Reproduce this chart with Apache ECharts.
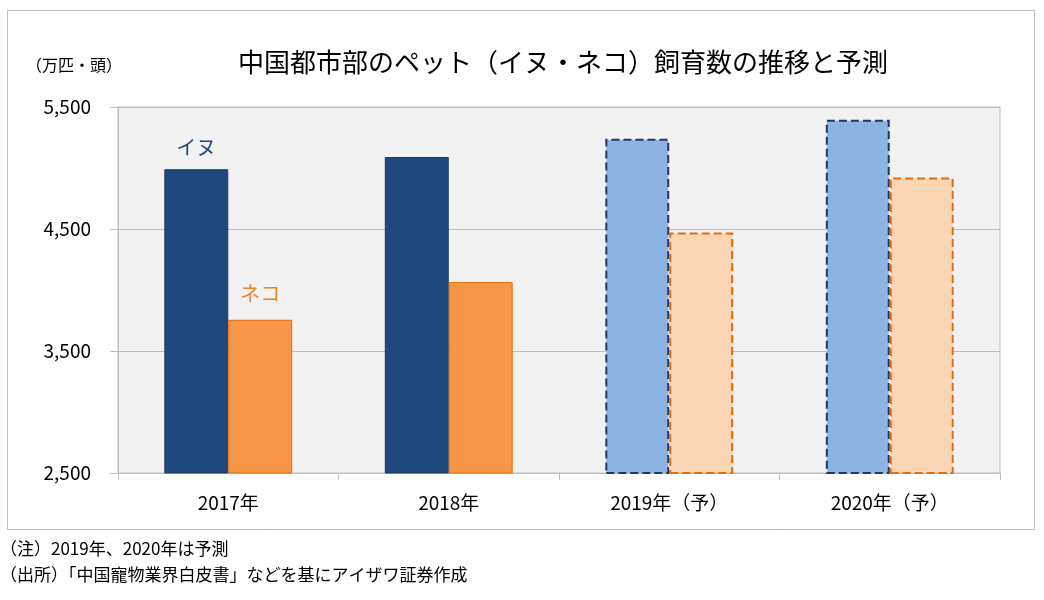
<!DOCTYPE html>
<html><head><meta charset="utf-8">
<script src="https://cdn.jsdelivr.net/npm/echarts@6/dist/echarts.min.js"></script>
<style>html,body{margin:0;padding:0;background:#fff}#c{width:1044px;height:600px}</style>
</head><body><div id="c"></div>
<script>
const categories = ['2017年', '2018年', '2019年（予）', '2020年（予）'];
const dogValues = [4990, 5090, 5240, 5395];
const catValues = [3756, 4066, 4472, 4922];
const isForecast = [false, false, true, true];
const yTicks = [2500, 3500, 4500, 5500];

const FONT = '"Noto Sans CJK JP", "Noto Sans", sans-serif';
const chart = echarts.init(document.getElementById('c'), null, {renderer: 'canvas'});

function items(vals, solid, light, border, label, labelColor, dist) {
  return vals.map((v, i) => {
    const it = {value: v};
    if (isForecast[i]) {
      it.itemStyle = {color: light, borderColor: border, borderWidth: 2, borderType: [8, 4]};
    } else {
      it.itemStyle = {color: solid, borderColor: border, borderWidth: 1};
    }
    if (i === 0) {
      it.label = {show: true, position: 'top', distance: dist, formatter: label,
        color: labelColor, fontSize: 20, fontFamily: FONT};
    }
    return it;
  });
}

chart.setOption({
  animation: false,
  backgroundColor: '#fff',
  title: [{
    text: '中国都市部のペット（イヌ・ネコ）飼育数の推移と予測',
    left: 558, top: 44, textAlign: 'center',
    textStyle: {fontSize: 26, fontWeight: 'normal', color: '#000', fontFamily: FONT}
  }, {
    text: '（万匹・頭）', left: 21, top: 52,
    textStyle: {fontSize: 16, fontWeight: 'normal', color: '#000', fontFamily: FONT}
  }],
  graphic: [
    {type: 'rect', shape: {x: 7.5, y: 10.5, width: 1027, height: 519},
     style: {fill: 'none', stroke: '#BFBFBF', lineWidth: 1}, z: -1},
    {type: 'text', left: 0, top: 540, style: {text: '（注）2019年、2020年は予測', fontSize: 17, fill: '#000', fontFamily: FONT}},
    {type: 'text', left: 0, top: 566, style: {text: '（出所）「中国寵物業界白皮書」などを基にアイザワ証券作成', fontSize: 17, fill: '#000', fontFamily: FONT}}
  ],
  grid: {left: 118, right: 44, top: 107, bottom: 127, show: true,
    backgroundColor: '#F2F2F2', borderColor: '#BFBFBF', borderWidth: 1},
  xAxis: {
    type: 'category', data: categories,
    axisLine: {lineStyle: {color: '#BFBFBF'}},
    axisTick: {show: true, length: 7, lineStyle: {color: '#BFBFBF'}},
    axisLabel: {color: '#000', fontSize: 19, margin: 20, fontFamily: FONT}
  },
  yAxis: {
    type: 'value', min: yTicks[0], max: yTicks[yTicks.length - 1], interval: 1000,
    axisLine: {show: true, lineStyle: {color: '#BFBFBF'}},
    axisTick: {show: true, length: 8, lineStyle: {color: '#BFBFBF'}},
    splitLine: {lineStyle: {color: '#BFBFBF'}},
    axisLabel: {color: '#000', fontSize: 19, margin: 27, fontFamily: FONT,
      formatter: v => v.toLocaleString('en-US')}
  },
  series: [
    {name: 'イヌ', type: 'bar', barGap: '0%', barCategoryGap: '42%',
     data: items(dogValues, '#1F497D', '#8DB3E2', '#1F3864', 'イヌ', '#1F497D', 12)},
    {name: 'ネコ', type: 'bar',
     data: items(catValues, '#F79646', '#FCD5B5', '#E46C0A', 'ネコ', '#E8862A', 16)}
  ]
});
</script></body></html>
